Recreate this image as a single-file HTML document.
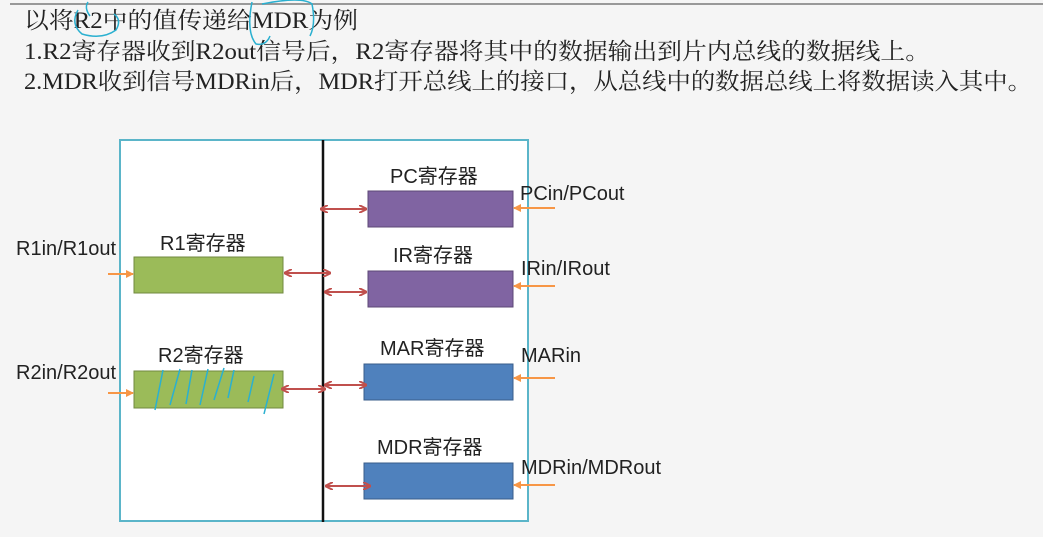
<!DOCTYPE html>
<html><head><meta charset="utf-8"><style>
body{margin:0;width:1043px;height:532px;background:#f5f5f5;overflow:hidden;font-family:"Liberation Sans","Noto Sans CJK SC",sans-serif}
</style></head><body>
<svg width="1043" height="532" xmlns="http://www.w3.org/2000/svg">
<defs>
<marker id="r" markerWidth="8" markerHeight="8" refX="7" refY="4" orient="auto-start-reverse" markerUnits="userSpaceOnUse"><path d="M0,0 L8,4 L0,8" fill="none" stroke="#c0504d" stroke-width="2"/></marker>
<marker id="o" markerWidth="8" markerHeight="8" refX="7" refY="4" orient="auto" markerUnits="userSpaceOnUse"><path d="M0,0 L8,4 L0,8 z" fill="#f79646"/></marker>
</defs>
<line x1="10" y1="4" x2="1043" y2="4" stroke="#999" stroke-width="2"/>
<g font-family="Liberation Serif,Noto Serif CJK SC,serif" font-size="23" fill="#222">
<text x="24" y="28" textLength="334" lengthAdjust="spacingAndGlyphs">以将R2中的值传递给MDR为例</text>
<text x="24" y="59" textLength="906" lengthAdjust="spacingAndGlyphs">1.R2寄存器收到R2out信号后，R2寄存器将其中的数据输出到片内总线的数据线上。</text>
<text x="24" y="89" textLength="1008" lengthAdjust="spacingAndGlyphs">2.MDR收到信号MDRin后，MDR打开总线上的接口，从总线中的数据总线上将数据读入其中。</text>
</g>
<path d="M88,2 q-4,6 2,14 M78,10 q-8,14 4,24 q20,6 34,-4 q6,-10 -2,-16" fill="none" stroke="#2ab0d0" stroke-width="1.5"/>
<path d="M252,2 q-6,30 4,42 q10,2 14,-8 M262,4 q40,-8 50,0 q4,20 -2,32" fill="none" stroke="#2ab0d0" stroke-width="1.5"/>
<rect x="120" y="140" width="408" height="381" fill="#fff" stroke="#5bb5c9" stroke-width="2"/>
<line x1="323" y1="140" x2="323" y2="522" stroke="#111" stroke-width="2.5"/>
<rect x="134" y="257" width="149" height="36" fill="#9bbb59" stroke="#71893f" stroke-width="1"/>
<rect x="134" y="371" width="149" height="37" fill="#9bbb59" stroke="#71893f" stroke-width="1"/>
<rect x="368" y="191" width="145" height="36" fill="#8064a2" stroke="#5c4776" stroke-width="1"/>
<rect x="368" y="271" width="145" height="36" fill="#8064a2" stroke="#5c4776" stroke-width="1"/>
<rect x="364" y="364" width="149" height="36" fill="#4f81bd" stroke="#385d8a" stroke-width="1"/>
<rect x="364" y="463" width="149" height="36" fill="#4f81bd" stroke="#385d8a" stroke-width="1"/>
<path d="M155,410 l8,-40 M170,405 l10,-36 M186,404 l6,-34 M200,405 l8,-36 M214,400 l10,-32 M228,398 l6,-28 M248,402 l6,-26 M264,414 l10,-40" stroke="#2ab0d0" stroke-width="1.5" fill="none"/>
<g stroke="#c0504d" stroke-width="2" marker-start="url(#r)" marker-end="url(#r)">
<line x1="321" y1="209" x2="366" y2="209"/>
<line x1="285" y1="273" x2="330" y2="273"/>
<line x1="325" y1="292" x2="366" y2="292"/>
<line x1="282" y1="389" x2="325" y2="389"/>
<line x1="325" y1="385" x2="366" y2="385"/>
<line x1="326" y1="486" x2="370" y2="486"/>
</g>
<g stroke="#f79646" stroke-width="2" marker-end="url(#o)">
<line x1="108" y1="274" x2="133" y2="274"/>
<line x1="108" y1="393" x2="133" y2="393"/>
<line x1="555" y1="208" x2="514" y2="208"/>
<line x1="555" y1="286" x2="514" y2="286"/>
<line x1="555" y1="378" x2="514" y2="378"/>
<line x1="555" y1="485" x2="514" y2="485"/>
</g>
<g font-size="20" fill="#222">
<text x="160" y="250">R1寄存器</text>
<text x="158" y="362">R2寄存器</text>
<text x="390" y="183">PC寄存器</text>
<text x="393" y="262">IR寄存器</text>
<text x="380" y="355">MAR寄存器</text>
<text x="377" y="454">MDR寄存器</text>
<text x="16" y="255">R1in/R1out</text>
<text x="16" y="379">R2in/R2out</text>
<text x="520" y="200">PCin/PCout</text>
<text x="521" y="275">IRin/IRout</text>
<text x="521" y="362">MARin</text>
<text x="521" y="474">MDRin/MDRout</text>
</g>
</svg>
</body></html>
